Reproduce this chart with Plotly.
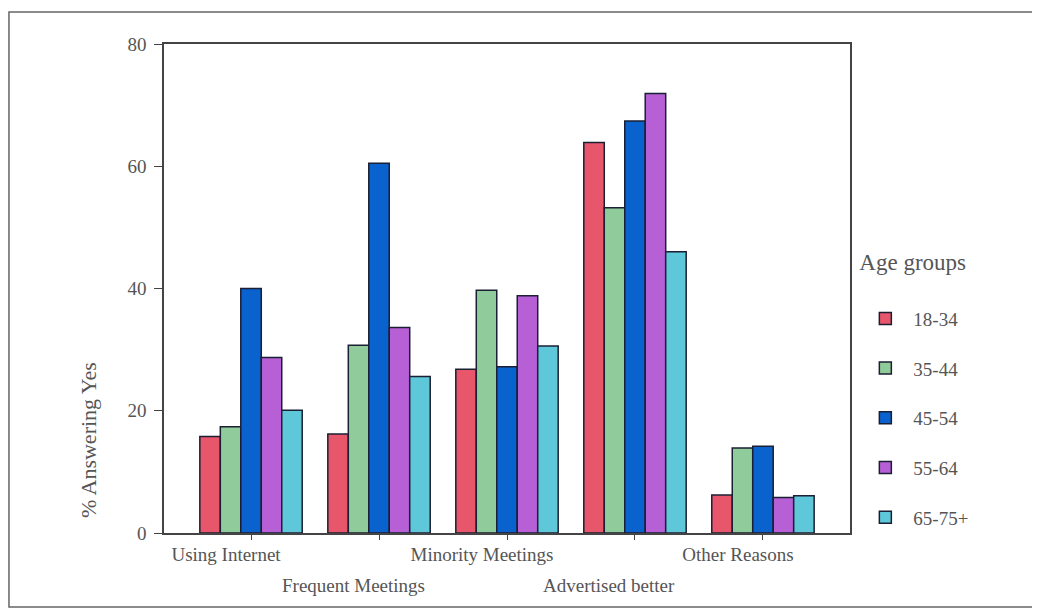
import plotly.graph_objects as go

categories = ["Using Internet", "Frequent Meetings", "Minority Meetings", "Advertised better", "Other Reasons"]
row1_text = ["Using Internet", "", "Minority Meetings", "", "Other Reasons"]
row2_cats = ["Frequent Meetings", "Advertised better"]
age_groups = ["18-34", "35-44", "45-54", "55-64", "65-75+"]
colors = ["#E8566C", "#90CB9B", "#0A62CE", "#B760D6", "#5EC7D9"]

v_18_34 = [15.8, 16.2, 26.8, 63.9, 6.2]
v_35_44 = [17.4, 30.7, 39.7, 53.2, 13.9]
v_45_54 = [40.0, 60.5, 27.2, 67.4, 14.2]
v_55_64 = [28.7, 33.6, 38.8, 71.9, 5.8]
v_65_75 = [20.1, 25.6, 30.6, 46.0, 6.1]
series = [v_18_34, v_35_44, v_45_54, v_55_64, v_65_75]

serif = "Liberation Serif"
txt = "#555555"
fig = go.Figure()
for name, vals, col in zip(age_groups, series, colors):
    fig.add_trace(go.Bar(
        x=categories, y=vals, name=name, legendgroup=name,
        marker=dict(color=col, line=dict(color="#1b1f33", width=1.5)),
    ))

annotations = [dict(
    text="% Answering Yes", xref="paper", yref="paper",
    x=-0.1108, y=0.190, xanchor="center", yanchor="middle",
    textangle=-90, showarrow=False,
    font=dict(size=22, color=txt, family=serif),
)]
for cat in row2_cats:
    annotations.append(dict(
        text=cat, xref="x", yref="paper", x=cat, y=0,
        xanchor="center", yanchor="middle", xshift=-26, yshift=-52,
        showarrow=False, font=dict(size=19, color=txt, family=serif),
    ))

fig.update_layout(
    width=1040, height=615,
    margin=dict(l=156, r=198, t=36, b=90),
    paper_bgcolor="white", plot_bgcolor="white",
    barmode="group", bargap=0.2, bargroupgap=0,
    font=dict(family=serif, color=txt, size=19),
    showlegend=True,
    legend=dict(
        x=1.0107, xanchor="left", y=0.5997, yanchor="top",
        title=dict(text="Age groups<br> ", font=dict(size=23, color=txt)),
        font=dict(size=19, color=txt),
        tracegroupgap=22, itemwidth=46,
        bgcolor="rgba(0,0,0,0)",
    ),
    xaxis=dict(
        type="category", range=[-0.68, 4.68],
        tickvals=categories, ticktext=row1_text,
        ticks="outside", ticklen=5, tickcolor="#444444",
        ticklabelshift=-25, ticklabelstandoff=-2,
        showline=True, linecolor="#444444", linewidth=1.5, mirror=True,
        showgrid=False, tickfont=dict(size=19, color=txt),
    ),
    yaxis=dict(
        range=[0, 80], tickvals=[0, 20, 40, 60, 80],
        ticks="outside", ticklen=8, tickcolor="#444444",
        showline=True, linecolor="#444444", linewidth=1.5, mirror=True,
        showgrid=False, zeroline=False, tickfont=dict(size=19, color=txt),
        ticklabelstandoff=4,
    ),
    annotations=annotations,
    shapes=[dict(
        type="rect", xref="paper", yref="paper",
        x0=-0.226, x1=1.33, y0=-0.1513, y1=1.0654,
        line=dict(color="#666666", width=1.5), fillcolor="rgba(0,0,0,0)",
        layer="below",
    )],
)

fig.write_html("out.html")
